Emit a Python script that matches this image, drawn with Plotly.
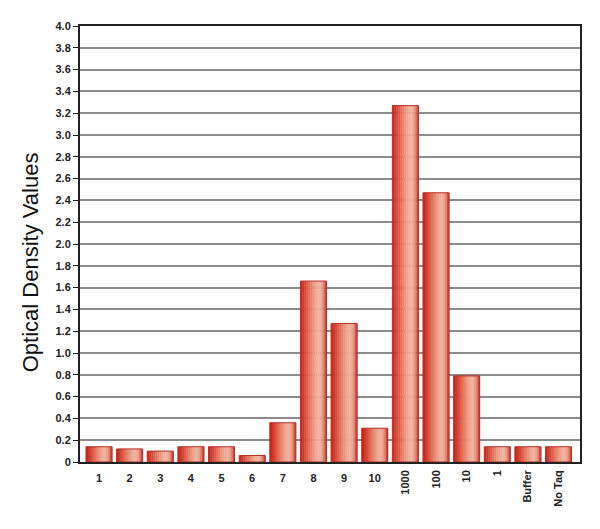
import plotly.graph_objects as go

# sample labels along the x axis
labels_a = ["1", "2", "3", "4", "5", "6", "7", "8", "9", "10"]
labels_b = ["1000", "100", "10", "1", "Buffer", "No Taq"]
od_values = [0.14, 0.12, 0.10, 0.14, 0.14, 0.06, 0.36, 1.66, 1.27, 0.31,
             3.27, 2.47, 0.79, 0.14, 0.14, 0.14]
y_ticks = [0, 0.2, 0.4, 0.6, 0.8, 1.0, 1.2, 1.4, 1.6, 1.8, 2.0,
           2.2, 2.4, 2.6, 2.8, 3.0, 3.2, 3.4, 3.6, 3.8, 4.0]

xpos = list(range(len(od_values)))
bar_w = 0.85

# fake a left-to-right gradient with thin overlaid strips
strip_colors = ["#c8281f", "#cf3728", "#d64a37", "#dc5d48", "#e2705a", "#e7826b",
                "#eb937c", "#eea28c", "#f0ad99", "#f1b3a0", "#eca38f", "#df8572",
                "#cc4a3c"]
n = len(strip_colors)
sw = bar_w / n

fig = go.Figure()
for i, c in enumerate(strip_colors):
    fig.add_trace(go.Bar(
        x=xpos, y=od_values, width=sw * 1.15, offset=-bar_w / 2 + i * sw,
        marker=dict(color=c, line=dict(width=0)),
        showlegend=False, hoverinfo="skip"))

# thin outline round each bar
fig.add_trace(go.Bar(
    x=xpos, y=od_values, width=bar_w, offset=-bar_w / 2,
    marker=dict(color="rgba(0,0,0,0)", line=dict(color="#b8302a", width=1)),
    showlegend=False))

xr = [-0.62, 15.7]
tick_font = dict(family="Liberation Sans, Arial", size=11, color="#222",
                 weight="bold")

# the page has an 8px body margin, so the figure is a bit smaller
fig.update_layout(
    width=592, height=521,
    margin=dict(l=72, r=20, t=16, b=67),
    paper_bgcolor="white", plot_bgcolor="white",
    barmode="overlay",
    font=dict(family="Liberation Sans, Arial"),
    xaxis=dict(
        range=xr, tickvals=xpos[:10], ticktext=labels_a, tickangle=0,
        tickfont=tick_font, ticks="", ticklabelstandoff=5,
        showgrid=False, showline=True, linecolor="#222", linewidth=2,
        mirror=True, zeroline=False),
    xaxis2=dict(
        range=xr, overlaying="x", anchor="y", side="bottom",
        tickvals=xpos[10:], ticktext=labels_b, tickangle=-90,
        tickfont=tick_font, ticks="", ticklabelstandoff=5,
        showgrid=False, showline=False, zeroline=False),
    yaxis=dict(
        range=[0, 4.0], tickvals=y_ticks,
        ticktext=["0"] + [f"{v:.1f}" for v in y_ticks[1:]],
        tickfont=tick_font, ticks="outside", ticklen=5, tickcolor="#222",
        showgrid=True, gridcolor="#8c8c8c", gridwidth=1.5,
        showline=True, linecolor="#222", linewidth=2, mirror=True,
        zeroline=False),
)

# invisible trace so the second x axis is drawn
fig.add_trace(go.Scatter(x=[xpos[10]], y=[0], xaxis="x2", mode="markers",
                         marker=dict(opacity=0), showlegend=False,
                         hoverinfo="skip"))

fig.add_annotation(
    text="Optical Density Values", textangle=-90,
    xref="paper", yref="paper", x=-0.1, y=0.458,
    xanchor="center", yanchor="middle",
    showarrow=False, font=dict(size=22, color="#111"))

fig.write_html("out.html")
